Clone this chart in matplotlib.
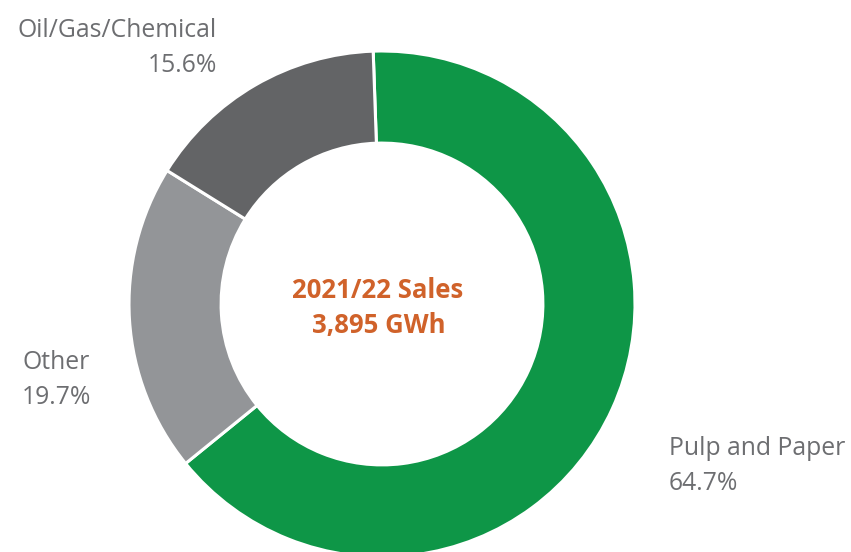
import matplotlib.pyplot as plt

labels = ["Pulp and Paper", "Other", "Oil/Gas/Chemical"]
shares = [64.7, 19.7, 15.6]
colors = ["#0e9647", "#939598", "#636466"]
center_title = "2021/22 Sales"
center_value = "3,895 GWh"

W, H = 851, 552
fig = plt.figure(figsize=(W / 100, H / 100), dpi=100)
ax = fig.add_axes([0, 0, 1, 1])

# ring geometry in pixels (y measured from top)
cx, cy = 382, H - 304
R = 253
ax.pie(shares, colors=colors, startangle=92, counterclock=False,
       center=(cx, cy), radius=R, frame=True,
       wedgeprops=dict(width=R * 0.364, edgecolor="white", linewidth=2.2))
ax.set_xlim(0, W)
ax.set_ylim(0, H)
ax.set_aspect("equal")
ax.axis("off")

font = "Open Sans"
grey = "#6d6e71"
orange = "#d0622a"

# label anchor: x, baseline y (from top), alignment
pos = {
    "Pulp and Paper": (669, 455, "left"),
    "Other": (22, 369, "left"),
    "Oil/Gas/Chemical": (217, 37, "right"),
}
for lab, val in zip(labels, shares):
    x, y, ha = pos[lab]
    ax.text(x, H - y, lab, ha=ha, va="baseline", fontsize=17.8, color=grey, family=font)
    ax.text(x, H - y - 34.5, f"{val:.1f}%", ha=ha, va="baseline", fontsize=17.8,
            color=grey, family=font)

ax.text(378, H - 298, center_title, ha="center", va="baseline", fontsize=18.5,
        fontweight="bold", color=orange, family=font)
ax.text(379, H - 333, center_value, ha="center", va="baseline", fontsize=18.5,
        fontweight="bold", color=orange, family=font)

fig.savefig("out.png", dpi=100)
